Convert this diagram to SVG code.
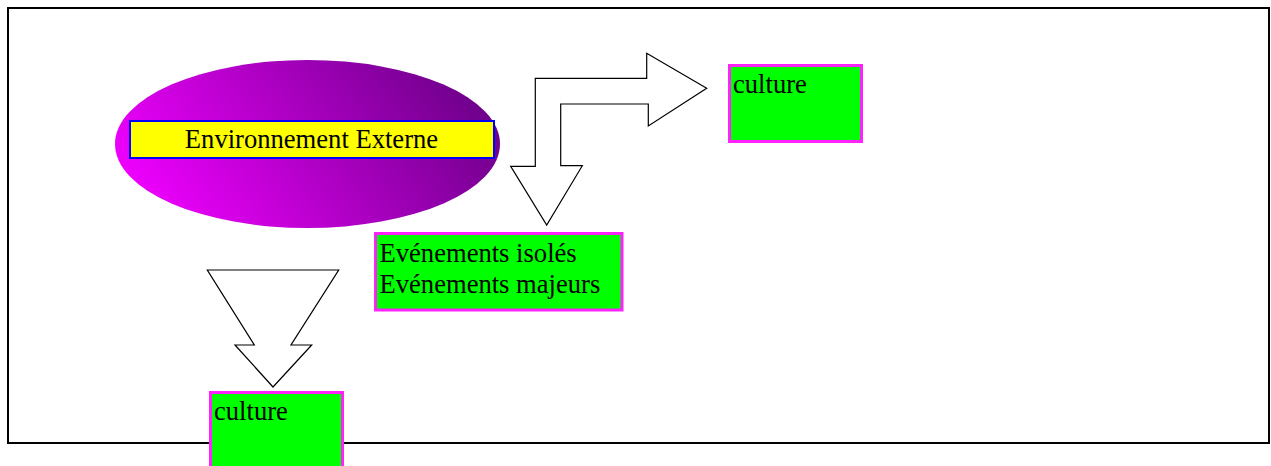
<svg xmlns="http://www.w3.org/2000/svg" width="1271" height="466" viewBox="0 0 1271 466">
<defs>
<linearGradient id="ellGrad" x1="0" y1="0.65" x2="1" y2="0.35">
<stop offset="0" stop-color="#f000ff"/>
<stop offset="1" stop-color="#6c0088"/>
</linearGradient>
<style>
.box{fill:#00ff00;stroke:#ff22ff;stroke-width:3}
.arrow{fill:#ffffff;stroke:#000000;stroke-width:1.2;stroke-linejoin:miter}
.t{font-family:"Liberation Serif","Times New Roman",serif;font-size:26.6px;fill:#000000}
</style>
</defs>
<rect x="8" y="8" width="1261" height="435" fill="#ffffff" stroke="#000000" stroke-width="2"/>
<g id="connectors">
<polygon class="arrow" points="535.3,78.3 646.7,78.3 646.7,53.3 706.7,88.3 648.3,126 648.3,104 560.7,104 560.7,165.7 582.3,165.7 546.7,225 510.7,166.3 535.3,166.3"/>
<polygon class="arrow" points="207.3,270 338.7,270 291,345 311.7,345 273,387 235,345 254.3,345"/>
</g>
<g id="environnement">
<ellipse cx="307.5" cy="144" rx="192.5" ry="84" fill="url(#ellGrad)"/>
<rect x="130" y="121" width="364" height="37" fill="#ffff00" stroke="#0000ff" stroke-width="2"/>
<text class="t" x="311.5" y="148" text-anchor="middle">Environnement Externe</text>
</g>
<g id="culture-top">
<rect class="box" x="729.5" y="65.5" width="132" height="76"/>
<text class="t" x="733" y="93">culture</text>
</g>
<g id="evenements">
<rect class="box" x="375.5" y="233.5" width="246.5" height="76.5"/>
<text class="t" x="379.5" y="262">Evénements isolés</text>
<text class="t" x="379.5" y="293">Evénements majeurs</text>
</g>
<g id="culture-bottom">
<rect class="box" x="210.5" y="392.5" width="132" height="80"/>
<text class="t" x="214" y="420">culture</text>
</g>
</svg>
